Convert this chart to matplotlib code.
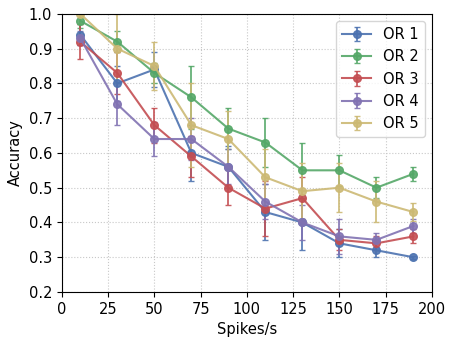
import numpy as np
import matplotlib
matplotlib.use('Agg')
import matplotlib.pyplot as plt

spikes = [10, 30, 50, 70, 90, 110, 130, 150, 170, 190]
labels = ['OR 1', 'OR 2', 'OR 3', 'OR 4', 'OR 5']

or1 = [0.94, 0.80, 0.84, 0.60, 0.56, 0.43, 0.40, 0.34, 0.32, 0.30]
or2 = [0.98, 0.92, 0.83, 0.76, 0.67, 0.63, 0.55, 0.55, 0.50, 0.54]
or3 = [0.92, 0.83, 0.68, 0.59, 0.50, 0.44, 0.47, 0.35, 0.34, 0.36]
or4 = [0.93, 0.74, 0.64, 0.64, 0.56, 0.46, 0.40, 0.36, 0.35, 0.39]
or5 = [1.00, 0.90, 0.85, 0.68, 0.64, 0.53, 0.49, 0.50, 0.46, 0.43]

err1 = [0.03, 0.05, 0.05, 0.08, 0.06, 0.08, 0.08, 0.04, 0.02, 0.005]
err2 = [0.02, 0.03, 0.03, 0.09, 0.06, 0.07, 0.08, 0.045, 0.03, 0.02]
err3 = [0.05, 0.06, 0.05, 0.06, 0.05, 0.08, 0.06, 0.03, 0.02, 0.02]
err4 = [0.02, 0.06, 0.05, 0.06, 0.05, 0.05, 0.05, 0.05, 0.02, 0.02]
err5 = [0.03, 0.10, 0.07, 0.12, 0.08, 0.08, 0.08, 0.07, 0.06, 0.025]

colors = ['#4c72b0', '#55a868', '#c44e52', '#8172b2', '#ccb974']

fig = plt.figure(figsize=(4.61, 3.46), dpi=100)
ax = fig.add_axes([0.134, 0.156, 0.803, 0.804])

series = [or1, or2, or3, or4, or5]
errs = [err1, err2, err3, err4, err5]
for vals, e, c, lab in zip(series, errs, colors, labels):
    ax.errorbar(spikes, vals, yerr=e, color=c, marker='o', markersize=5.5,
                linewidth=1.5, capsize=2, elinewidth=1.3, alpha=0.9, label=lab)

ax.set_xlim(0, 200)
ax.set_ylim(0.2, 1.0)
ax.set_xticks(np.arange(0, 201, 25))
ax.set_yticks(np.arange(0.2, 1.01, 0.1))
ax.tick_params(labelsize=10.5)
ax.grid(True, linestyle=':', color='#c8c8c8', linewidth=0.8)
ax.set_xlabel('Spikes/s', fontsize=10.5)
ax.set_ylabel('Accuracy', fontsize=10.5)
ax.legend(loc='upper right', fontsize=10.5)

plt.savefig('out.png', dpi=100)
